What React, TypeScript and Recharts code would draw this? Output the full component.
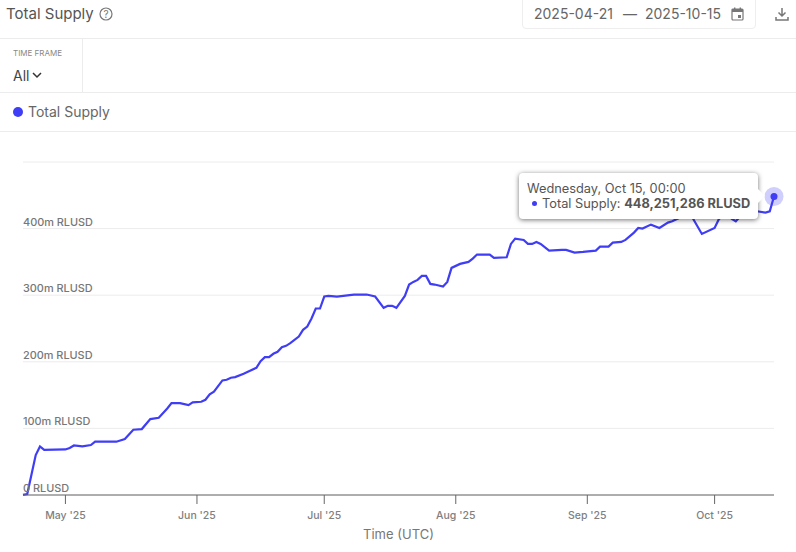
import React from 'react';
import { LineChart, Line, XAxis, YAxis, CartesianGrid, Tooltip } from 'recharts';

const dates = [
  '04-21', '04-22', '04-24', '04-25', '04-26', '05-01', '05-02', '05-03', '05-05', '05-07',
  '05-08', '05-13', '05-15', '05-17', '05-19', '05-21', '05-23', '05-25', '05-26', '05-28',
  '05-30', '05-31', '06-02', '06-03', '06-04', '06-05', '06-07', '06-08', '06-09', '06-10',
  '06-12', '06-13', '06-15', '06-16', '06-17', '06-18', '06-19', '06-20', '06-21', '06-22',
  '06-23', '06-25', '06-26', '06-27', '06-28', '06-29', '06-30', '07-01', '07-02', '07-04',
  '07-08', '07-11', '07-13', '07-15', '07-16', '07-17', '07-18', '07-20', '07-21', '07-22',
  '07-23', '07-24', '07-25', '07-26', '07-27', '07-29', '07-30', '07-31', '08-02', '08-04',
  '08-05', '08-06', '08-09', '08-10', '08-13', '08-14', '08-15', '08-17', '08-18', '08-19',
  '08-20', '08-21', '08-23', '08-26', '08-27', '08-29', '08-31', '09-03', '09-04', '09-06',
  '09-07', '09-09', '09-10', '09-12', '09-13', '09-14', '09-16', '09-18', '09-20', '09-21',
  '09-23', '09-25', '09-26', '09-28', '10-01', '10-02', '10-04', '10-05', '10-06', '10-07',
  '10-09', '10-11', '10-13', '10-14', '10-15',
];

// millions of RLUSD
const supply = [
  0.3, 1.5, 60, 72.9, 67.7, 68.4, 70.7, 74.4, 73, 75,
  80, 80, 84, 98, 99, 114, 116, 130, 138, 138,
  135, 139, 140, 143, 151, 155, 172, 173, 176, 177,
  182, 185, 191, 201, 207, 207, 212, 215, 222, 224,
  228, 238, 248, 253, 265, 280, 280, 298, 299, 298,
  301, 301, 298, 281, 284, 284, 281, 299, 316, 320,
  323, 329, 329, 317, 316, 313, 320, 341, 347, 350,
  355, 361, 361, 356, 357, 377, 385, 383, 377, 377,
  380, 377, 367, 368, 368, 364, 365, 367, 373, 373,
  379, 380, 383, 394, 401, 400, 406, 401, 409, 411,
  417, 426, 414, 392, 401, 414, 426, 415, 411, 418,
  423, 426, 424, 426, 448.25,
];

const yTicks = [0, 100, 200, 300, 400, 500];
const yLabels = ['0 RLUSD', '100m RLUSD', '200m RLUSD', '300m RLUSD', '400m RLUSD', ''];
const xTickDates = ['05-01', '06-01', '07-01', '08-01', '09-01', '10-01'];
const xLabels = ["May '25", "Jun '25", "Jul '25", "Aug '25", "Sep '25", "Oct '25"];

const toTime = (d: string) => new Date(`2025-${d}T00:00:00Z`).getTime();
const rows = dates.map((d, i) => ({ time: toTime(d), supply: supply[i] }));
const xTicks = xTickDates.map(toTime);

const FONT = 'Inter, sans-serif';
const BLUE = '#3f3df5';
const LINE = '#ececec';

const YTick = (props: any) => {
  const { y, index } = props;
  return (
    <text x={23} y={y - 3} textAnchor="start" fontFamily={FONT} fontSize={10.9} fontWeight={500} fill="#777">
      {yLabels[index]}
    </text>
  );
};

const ActiveDot = (props: any) => {
  const { cx, cy } = props;
  return (
    <g>
      <circle cx={cx} cy={cy} r={9.5} fill={BLUE} fillOpacity={0.25} />
      <circle cx={cx} cy={cy} r={3.5} fill={BLUE} />
    </g>
  );
};

const TipBox = () => (
  <div
    style={{
      position: 'relative',
      width: 239,
      height: 46,
      boxSizing: 'border-box',
      padding: '8px 8px',
      background: '#fff',
      borderRadius: 4,
      boxShadow: '0 1px 5px rgba(0,0,0,0.55)',
      fontFamily: FONT,
      fontSize: 12.8,
      lineHeight: '15px',
      color: '#555',
      whiteSpace: 'nowrap',
    }}
  >
    <div
      style={{
        position: 'absolute',
        right: -5,
        top: 18,
        width: 10,
        height: 10,
        background: '#fff',
        transform: 'rotate(45deg)',
      }}
    />
    <div style={{ position: 'relative' }}>Wednesday, Oct 15, 00:00</div>
    <div style={{ position: 'relative', marginLeft: 5 }}>
      <span
        style={{
          display: 'inline-block',
          width: 5,
          height: 5,
          borderRadius: 3,
          background: BLUE,
          marginRight: 5,
          verticalAlign: 2,
        }}
      />
      Total Supply: <b>448,251,286 RLUSD</b>
    </div>
  </div>
);

const Header = () => (
  <div style={{ position: 'absolute', left: 0, top: 0, width: 796, height: 132, fontFamily: FONT }}>
    <div style={{ position: 'absolute', left: 6, top: 4, fontSize: 15, lineHeight: '20px', color: '#555' }}>
      Total Supply
    </div>
    <svg style={{ position: 'absolute', left: 99, top: 7 }} width={14} height={14} viewBox="0 0 14 14">
      <circle cx={7} cy={7} r={6} fill="none" stroke="#777" strokeWidth={1.2} />
      <text x={7} y={10.5} textAnchor="middle" fontSize={10} fontFamily={FONT} fill="#777">?</text>
    </svg>
    <div
      style={{
        position: 'absolute',
        left: 522,
        top: -4,
        width: 234,
        height: 33,
        boxSizing: 'border-box',
        border: '1px solid #eee',
        borderRadius: 4,
      }}
    />
    <div style={{ position: 'absolute', left: 534, top: 5, fontSize: 14, lineHeight: '18px', color: '#666', whiteSpace: 'pre' }}>
      2025-04-21
    </div>
    <div style={{ position: 'absolute', left: 623, top: 5, fontSize: 14, lineHeight: '18px', color: '#666' }}>—</div>
    <div style={{ position: 'absolute', left: 645, top: 5, fontSize: 14, lineHeight: '18px', color: '#666', whiteSpace: 'pre' }}>
      2025-10-15
    </div>
    <svg style={{ position: 'absolute', left: 731, top: 7 }} width={13} height={14} viewBox="0 0 13 14">
      <rect x={1} y={2} width={11} height={11} rx={1} fill="none" stroke="#777" strokeWidth={1.2} />
      <rect x={1} y={2} width={11} height={3} fill="#777" />
      <rect x={7} y={8} width={3} height={3} fill="#777" />
      <rect x={3} y={0.5} width={1.4} height={2} fill="#777" />
      <rect x={8.6} y={0.5} width={1.4} height={2} fill="#777" />
    </svg>
    <svg style={{ position: 'absolute', left: 775, top: 7 }} width={14} height={14} viewBox="0 0 14 14">
      <path d="M7 1 V9 M3.5 5.5 L7 9 L10.5 5.5 M1 10 V13 H13 V10" fill="none" stroke="#777" strokeWidth={1.5} />
    </svg>
    <div style={{ position: 'absolute', left: 0, top: 38, width: 796, height: 1, background: LINE }} />
    <div style={{ position: 'absolute', left: 82, top: 38, width: 1, height: 54, background: LINE }} />
    <div style={{ position: 'absolute', left: 13, top: 47, fontSize: 8, lineHeight: '12px', color: '#888' }}>TIME FRAME</div>
    <div style={{ position: 'absolute', left: 13, top: 67, fontSize: 14, lineHeight: '18px', color: '#444' }}>All</div>
    <svg style={{ position: 'absolute', left: 32, top: 72 }} width={10} height={7} viewBox="0 0 10 7">
      <path d="M1 1 L5 5 L9 1" fill="none" stroke="#333" strokeWidth={1.5} />
    </svg>
    <div style={{ position: 'absolute', left: 0, top: 92, width: 796, height: 1, background: LINE }} />
    <div style={{ position: 'absolute', left: 13, top: 107, width: 10, height: 10, borderRadius: 5, background: BLUE }} />
    <div style={{ position: 'absolute', left: 28, top: 103, fontSize: 14, lineHeight: '18px', color: '#666' }}>Total Supply</div>
    <div style={{ position: 'absolute', left: 0, top: 131, width: 796, height: 1, background: LINE }} />
  </div>
);

export default function App() {
  return (
    <div style={{ position: 'absolute', left: 0, top: 0, width: 796, height: 552, background: '#fff', overflow: 'hidden' }}>
      <Header />
      <div style={{ position: 'absolute', left: 0, top: 132 }}>
        <LineChart width={796} height={420} data={rows} margin={{ top: 30, right: 22, bottom: 0, left: 22 }}>
          <CartesianGrid horizontal vertical={false} stroke={LINE} />
          <XAxis
            dataKey="time"
            type="number"
            scale="time"
            domain={[toTime('04-21'), toTime('10-15')]}
            ticks={xTicks}
            tickFormatter={(v: number) => xLabels[xTicks.indexOf(v)]}
            tick={{ fontFamily: FONT, fontSize: 10.5, fontWeight: 500, fill: '#808080' }}
            tickLine={{ stroke: '#666' }}
            axisLine={{ stroke: '#666', strokeWidth: 1 }}
            tickSize={9}
            tickMargin={8}
            height={57}
            label={{ value: 'Time (UTC)', position: 'insideBottom', offset: 13, fontFamily: FONT, fontSize: 13, fill: '#777' }}
          />
          <YAxis
            type="number"
            domain={[0, 500]}
            ticks={yTicks}
            width={1}
            axisLine={false}
            tickLine={false}
            tick={<YTick />}
            interval={0}
          />
          <Tooltip
            active
            defaultIndex={rows.length - 1}
            position={{ x: 519, y: 41 }}
            isAnimationActive={false}
            cursor={false}
            content={<TipBox />}
            wrapperStyle={{ outline: 'none' }}
          />
          <Line
            dataKey="supply"
            type="linear"
            stroke={BLUE}
            strokeWidth={2.2}
            dot={false}
            activeDot={<ActiveDot />}
            isAnimationActive={false}
          />
        </LineChart>
      </div>
    </div>
  );
}
